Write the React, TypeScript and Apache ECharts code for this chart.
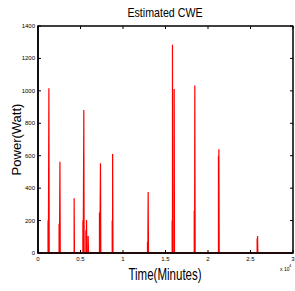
import React, { useEffect, useRef } from "react";
import * as echarts from "echarts";

// Spike positions (minutes) and peak power (W); repeated x = sub-spikes
const spikeX = [1200, 1300, 2500, 2600, 4270, 5300, 5410, 5650, 5730, 5920, 7250, 7370, 8750, 8800, 12900, 12980, 15800, 15840, 16040, 18400, 18470, 21250, 21300, 25800, 25850];
const spikeH = [200, 1016, 180, 563, 337, 200, 882, 140, 203, 105, 250, 553, 200, 611, 70, 376, 200, 1284, 1012, 260, 1033, 600, 640, 90, 105];
const xTicks = [0, 5000, 10000, 15000, 20000, 25000, 30000];
const yTicks = [0, 200, 400, 600, 800, 1000, 1200, 1400];
const xMax = 30000;
const yMax = 1400;

export default function App() {
  const ref = useRef<HTMLDivElement>(null);
  useEffect(() => {
    if (!ref.current) return;
    const chart = echarts.init(ref.current, null, { renderer: "svg" });
    const order = spikeX.map((x, i) => i).sort((a, b) => spikeX[a] - spikeX[b]);
    const data: number[][] = [[0, 0]];
    order.forEach((i) => {
      const x = spikeX[i];
      const h = spikeH[i];
      data.push([x - 20, 0], [x - 20, h], [x + 20, h], [x + 20, 0]);
    });
    data.push([xMax, 0]);
    const sans = "Liberation Sans, Arial, sans-serif";
    const base: any = {
      animation: false,
      grid: { left: 38, right: 2, top: 26, bottom: 38, outerBoundsMode: "none" },
      xAxis: {
        type: "value",
        min: 0,
        max: xMax,
        interval: 5000,
        axisLine: { show: true, onZero: false, lineStyle: { color: "#000000", width: 1.5 } },
        axisTick: { show: false },
        splitLine: { show: false },
        axisLabel: {
          fontSize: 6,
          color: "#000000",
          fontFamily: sans,
          margin: 3,
          formatter: (v: number) => (xTicks.includes(v) ? String(v / 10000) : ""),
        },
      },
      yAxis: {
        type: "value",
        min: 0,
        max: yMax,
        interval: 200,
        axisLine: { show: true, onZero: false, lineStyle: { color: "#000000", width: 1.5 } },
        axisTick: { show: false },
        splitLine: { show: false },
        axisLabel: {
          fontSize: 6,
          color: "#000000",
          fontFamily: sans,
          margin: 3,
          formatter: (v: number) => (yTicks.includes(v) ? String(v) : ""),
        },
        name: "Power(Watt)",
        nameLocation: "middle",
        nameGap: 15,
        nameMoveOverlap: false,
        nameTextStyle: { fontFamily: sans, fontSize: 13, color: "#000000" },
      },
      graphic: [
        { type: "text", x: 165, y: 6, scaleX: 0.82, style: { text: "Estimated CWE", fontSize: 13, fill: "#000000", fontFamily: sans, align: "center", verticalAlign: "top" } },
        { type: "text", x: 165, y: 266, scaleX: 0.72, style: { text: "Time(Minutes)", fontSize: 16, fill: "#000000", fontFamily: sans, align: "center", verticalAlign: "top" } },
        { type: "text", x: 280, y: 266, style: { text: "x 10", fontSize: 5, fill: "#000000", fontFamily: sans } },
        { type: "text", x: 289, y: 263, style: { text: "4", fontSize: 4, fill: "#000000", fontFamily: sans } },
      ],
      series: [
        {
          type: "line",
          data,
          showSymbol: false,
          symbol: "none",
          lineStyle: { color: "#ff0000", width: 1.2 },
        },
      ],
    };
    chart.setOption(base);

    // Tick length of 3 px, expressed in data units through the axes' scales
    const a = chart.convertFromPixel({ gridIndex: 0 }, [0, 0]) as number[];
    const b = chart.convertFromPixel({ gridIndex: 0 }, [3, 3]) as number[];
    const dx = Math.abs(b[0] - a[0]);
    const dy = Math.abs(b[1] - a[1]);

    const frame: (number[] | string)[] = [[0, 0], [0, yMax], [xMax, yMax], [xMax, 0], [0, 0]];
    const ticks: (number[] | string)[] = [];
    xTicks.forEach((v) => {
      ticks.push([v, 0], [v, dy], "-", [v, yMax], [v, yMax - dy], "-");
    });
    yTicks.forEach((v) => {
      ticks.push([0, v], [dx, v], "-", [xMax, v], [xMax - dx, v], "-");
    });

    chart.setOption({
      series: [
        base.series[0],
        {
          type: "line",
          data: frame,
          showSymbol: false,
          symbol: "none",
          clip: false,
          z: 5,
          lineStyle: { color: "#000000", width: 1.5 },
          silent: true,
        },
        {
          type: "line",
          data: ticks,
          showSymbol: false,
          symbol: "none",
          clip: false,
          connectNulls: false,
          z: 5,
          lineStyle: { color: "#000000", width: 1 },
          silent: true,
        },
      ],
    });
    return () => chart.dispose();
  }, []);
  return <div ref={ref} style={{ position: "fixed", left: 0, top: 0, width: 295, height: 291, background: "#fff" }} />;
}
